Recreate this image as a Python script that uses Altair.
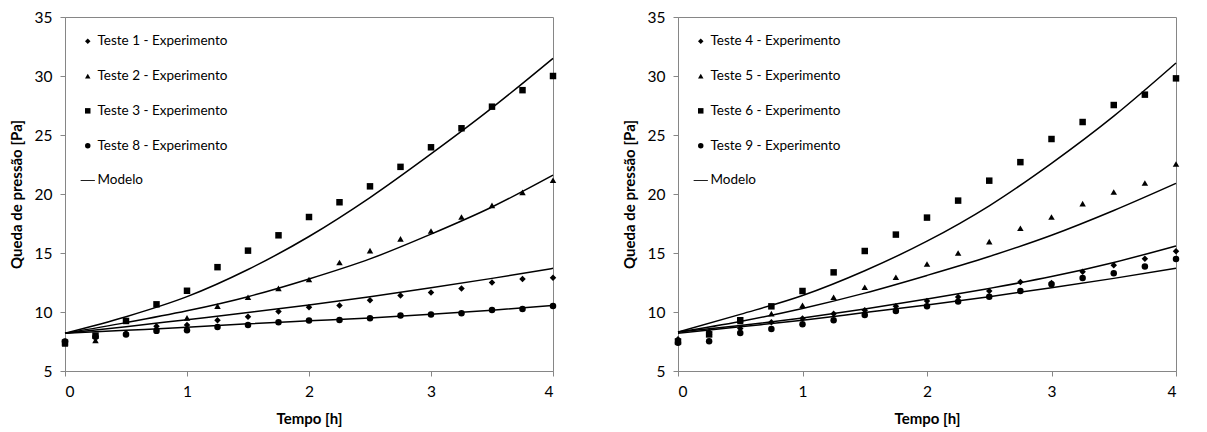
import altair as alt
import pandas as pd

# ---- data ----
t_exp = [0, 0.25, 0.5, 0.75, 1, 1.25, 1.5, 1.75, 2, 2.25, 2.5, 2.75, 3, 3.25, 3.5, 3.75, 4]

teste1 = [7.5, 7.9, 8.2, 8.8, 8.9, 9.3, 9.6, 10.05, 10.4, 10.55, 11.0, 11.4, 11.65, 12.0, 12.5, 12.8, 12.9]
teste2 = [7.3, 7.6, 8.2, 8.7, 9.5, 10.5, 11.25, 12.0, 12.75, 14.2, 15.2, 16.2, 16.86, 18.05, 19.04, 20.14, 21.16]
teste3 = [7.4, 8.0, 9.24, 10.65, 11.8, 13.8, 15.2, 16.5, 18.05, 19.3, 20.65, 22.3, 23.96, 25.57, 27.4, 28.8, 30.0]
teste8 = [7.5, 7.9, 8.1, 8.4, 8.45, 8.73, 8.9, 9.13, 9.27, 9.33, 9.47, 9.7, 9.78, 9.9, 10.17, 10.25, 10.5]

teste4 = [7.7, 8.3, 8.6, 9.13, 9.44, 9.86, 10.14, 10.48, 10.93, 11.27, 11.78, 12.55, 12.46, 13.42, 13.96, 14.52, 15.14]
teste5 = [7.6, 8.3, 9.2, 9.86, 10.57, 11.25, 12.1, 12.94, 14.07, 15.0, 15.96, 17.1, 18.05, 19.18, 20.17, 20.93, 22.54]
teste6 = [7.5, 8.1, 9.3, 10.48, 11.78, 13.36, 15.17, 16.56, 18.0, 19.44, 21.13, 22.7, 24.66, 26.1, 27.54, 28.42, 29.8]
teste9 = [7.4, 7.52, 8.22, 8.56, 8.96, 9.3, 9.75, 10.08, 10.48, 10.88, 11.3, 11.78, 12.35, 12.88, 13.28, 13.85, 14.5]

t_model = [0, 0.5, 1, 1.5, 2, 2.5, 3, 3.5, 4]
modelo1 = [8.2, 8.75, 9.35, 9.95, 10.6, 11.3, 12.05, 12.85, 13.7]
modelo2 = [8.2, 9.1, 10.1, 11.3, 12.8, 14.5, 16.6, 18.9, 21.6]
modelo3 = [8.2, 9.6, 11.3, 13.6, 16.4, 19.7, 23.4, 27.3, 31.5]
modelo8 = [8.2, 8.45, 8.7, 9.0, 9.25, 9.5, 9.8, 10.15, 10.55]

modelo4 = [8.3, 8.85, 9.5, 10.25, 11.1, 12.0, 13.0, 14.2, 15.6]
modelo5 = [8.3, 9.2, 10.3, 11.6, 13.1, 14.7, 16.5, 18.6, 20.9]
modelo6 = [8.3, 9.8, 11.4, 13.5, 16.0, 19.0, 22.6, 26.6, 31.1]
modelo9 = [8.2, 8.75, 9.3, 9.95, 10.6, 11.3, 12.05, 12.85, 13.7]

labels_left = ["Teste 1 - Experimento", "Teste 2 - Experimento",
               "Teste 3 - Experimento", "Teste 8 - Experimento", "Modelo"]
labels_right = ["Teste 4 - Experimento", "Teste 5 - Experimento",
                "Teste 6 - Experimento", "Teste 9 - Experimento", "Modelo"]

x_ticks = [0, 1, 2, 3, 4]
y_ticks = [5, 10, 15, 20, 25, 30, 35]

FONT = "Lato"
GRAY = "#868686"
LINE_PATH = "M-2.6,-0.16H2.6V0.16H-2.6Z"
SHAPES = ["diamond", "triangle-up", "square", "circle", LINE_PATH]


def exp_frame(labels, series):
    rows = []
    for lab, vals in zip(labels, series):
        for t, v in zip(t_exp, vals):
            rows.append({"t": t, "v": v, "serie": lab})
    return pd.DataFrame(rows)


def model_frame(names, series):
    rows = []
    for name, vals in zip(names, series):
        for t, v in zip(t_model, vals):
            rows.append({"t": t, "v": v, "modelo": name})
    return pd.DataFrame(rows)


def panel(labels, exp_series, model_series, width):
    df_e = exp_frame(labels[:4], exp_series)
    df_m = model_frame(["m1", "m2", "m3", "m4"], model_series)

    x = alt.X("t:Q", title="Tempo [h]",
              scale=alt.Scale(domain=[0, 4], nice=False),
              axis=alt.Axis(values=x_ticks, format="d"))
    y = alt.Y("v:Q", title="Queda de pressão [Pa]",
              scale=alt.Scale(domain=[5, 35], nice=False),
              axis=alt.Axis(values=y_ticks))

    lines = alt.Chart(df_m).mark_line(
        color="black", strokeWidth=1.5, interpolate="monotone"
    ).encode(x=x, y=y, detail="modelo:N")

    pts = alt.Chart(df_e).mark_point(
        filled=True, color="black", size=42, opacity=1
    ).encode(
        x=x, y=y,
        shape=alt.Shape(
            "serie:N",
            scale=alt.Scale(domain=labels, range=SHAPES),
            legend=alt.Legend(
                title=None, orient="none", legendX=16, legendY=17.5,
                symbolSize=30, symbolFillColor="black",
                symbolStrokeWidth=0, labelFont=FONT, labelFontSize=13.5,
                labelColor="black", rowPadding=19.8, labelOffset=3,
                padding=0, symbolOffset=0,
            ),
        ),
    )
    return alt.layer(lines, pts).properties(width=width, height=354)


left = panel(labels_left, [teste1, teste2, teste3, teste8],
             [modelo1, modelo2, modelo3, modelo8], 488)
right = panel(labels_right, [teste4, teste5, teste6, teste9],
              [modelo4, modelo5, modelo6, modelo9], 498)

chart = alt.hconcat(left, right, spacing=64).resolve_scale(
    shape="independent"
).resolve_legend(shape="independent").properties(
    padding={"left": 0, "top": 1, "right": 0, "bottom": 0}
).configure_view(
    stroke=GRAY, strokeWidth=1
).configure_axis(
    grid=False, domainColor=GRAY, tickColor=GRAY, tickSize=5,
    labelFont=FONT, labelFontSize=15.5, labelColor="black", labelPadding=8,
    titleFont=FONT, titleFontSize=15, titleFontWeight="bold",
    titleColor="black",
).configure_axisY(titlePadding=10).configure_axisX(titlePadding=12)

chart.save("out.html", embed_options={"renderer": "svg", "actions": False})
